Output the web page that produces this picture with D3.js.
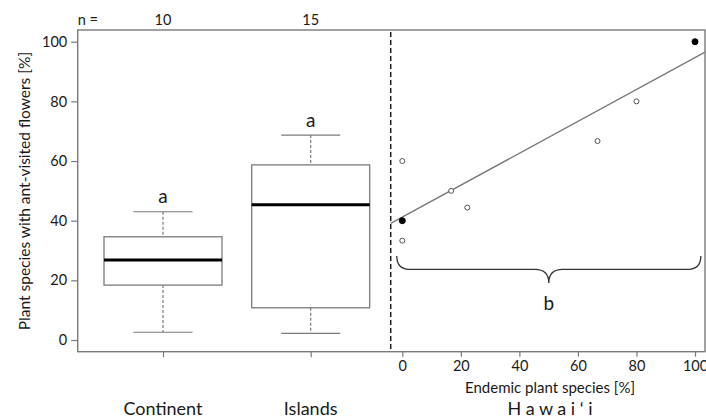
<!DOCTYPE html>
<html>
<head>
<meta charset="utf-8">
<script src="https://cdn.jsdelivr.net/npm/d3@7"></script>
<style>
  html, body { margin: 0; padding: 0; background: #fff; }
  svg { display: block; font-family: Lato, "Open Sans", sans-serif; }
</style>
</head>
<body>
<svg id="chart" width="706" height="419"></svg>
<script>
// Box-plot summary statistics for the two regions
const groups = ["Continent", "Islands"];
const nCounts = [10, 15];
const whiskerLow = [2.6, 2.2];
const q1 = [18.4, 10.8];
const median = [26.8, 45.3];
const q3 = [34.6, 58.7];
const whiskerHigh = [43.0, 68.7];
const groupLetters = ["a", "a"];

// Hawai'i islands: endemic share vs. share of ant-visited flowers
const endemicPct = [0, 0, 0, 16.7, 22.2, 66.7, 80, 100];
const antPct = [40, 60, 33.3, 50, 44.4, 66.7, 80, 100];
const filledPoint = [true, false, false, false, false, false, false, true];
const fitIntercept = 41.2;
const fitSlope = 0.535;
const hawaiiLetter = "b";

// Axis ticks
const yTicks = [0, 20, 40, 60, 80, 100];
const xTicksEndemic = [0, 20, 40, 60, 80, 100];

// Brace span under the Hawai'i points (data units)
const braceX = [-1.9, 102];
const braceY = [28.2, 19.1];

const svg = d3.select("#chart");
const gray = "#7a7a7a";
const ink = "#1a1a1a";

const frame = { left: 77.7, right: 705, top: 30, bottom: 351.7 };
const dashX = 390.7;

const y = d3.scaleLinear().domain([0, 100]).range([340, 41.7]);
const xg = d3.scalePoint().domain(groups).range([163, 310.7]);
const xs = d3.scaleLinear().domain([0, 100]).range([402.3, 695]);
const boxW = 118;

// Frame
svg.append("rect")
  .attr("x", frame.left).attr("y", frame.top)
  .attr("width", frame.right - frame.left).attr("height", frame.bottom - frame.top)
  .attr("fill", "none").attr("stroke", gray).attr("stroke-width", 1.4);

// Y axis
const yAxis = d3.axisLeft(y).tickValues(yTicks).tickSize(6.5).tickPadding(4);
const gy = svg.append("g").attr("transform", `translate(${frame.left},0)`).call(yAxis);
gy.select(".domain").remove();
gy.selectAll(".tick line").attr("stroke", gray).attr("stroke-width", 1.2);
gy.selectAll(".tick text").attr("fill", ink).attr("font-size", 14.5).attr("font-family", "Lato, sans-serif");

svg.append("text")
  .attr("transform", `translate(30,191) rotate(-90)`)
  .attr("text-anchor", "middle")
  .attr("fill", ink).attr("font-size", 15.5)
  .text("Plant species with ant-visited flowers [%]");

// Group ticks on the bottom edge
const gx = svg.append("g").attr("transform", `translate(0,${frame.bottom})`)
  .call(d3.axisBottom(xg).tickSize(5.5).tickFormat(""));
gx.select(".domain").remove();
gx.selectAll(".tick line").attr("stroke", gray).attr("stroke-width", 1.2);

// Sample sizes
svg.append("text").attr("x", frame.left).attr("y", 25)
  .attr("fill", ink).attr("font-size", 14.5).text("n =");
svg.selectAll(".ncount").data(groups).join("text")
  .attr("class", "ncount")
  .attr("x", d => xg(d)).attr("y", 25)
  .attr("text-anchor", "middle").attr("fill", ink).attr("font-size", 14.5)
  .text((d, i) => nCounts[i]);

// Box plots
const boxes = svg.selectAll(".box").data(groups).join("g").attr("class", "box");
boxes.append("line")
  .attr("x1", d => xg(d)).attr("x2", d => xg(d))
  .attr("y1", (d, i) => y(whiskerHigh[i])).attr("y2", (d, i) => y(q3[i]))
  .attr("stroke", gray).attr("stroke-width", 1.2).attr("stroke-dasharray", "3,2");
boxes.append("line")
  .attr("x1", d => xg(d)).attr("x2", d => xg(d))
  .attr("y1", (d, i) => y(q1[i])).attr("y2", (d, i) => y(whiskerLow[i]))
  .attr("stroke", gray).attr("stroke-width", 1.2).attr("stroke-dasharray", "3,2");
[whiskerHigh, whiskerLow].forEach(arr => {
  boxes.append("line")
    .attr("x1", d => xg(d) - boxW / 4).attr("x2", d => xg(d) + boxW / 4)
    .attr("y1", (d, i) => y(arr[i])).attr("y2", (d, i) => y(arr[i]))
    .attr("stroke", gray).attr("stroke-width", 1.2);
});
boxes.append("rect")
  .attr("x", d => xg(d) - boxW / 2).attr("width", boxW)
  .attr("y", (d, i) => y(q3[i])).attr("height", (d, i) => y(q1[i]) - y(q3[i]))
  .attr("fill", "#fff").attr("stroke", gray).attr("stroke-width", 1.3);
boxes.append("line")
  .attr("x1", d => xg(d) - boxW / 2).attr("x2", d => xg(d) + boxW / 2)
  .attr("y1", (d, i) => y(median[i])).attr("y2", (d, i) => y(median[i]))
  .attr("stroke", "#000").attr("stroke-width", 3);
boxes.append("text")
  .attr("x", d => xg(d)).attr("y", (d, i) => y(whiskerHigh[i]) - 8.5)
  .attr("text-anchor", "middle").attr("fill", ink).attr("font-size", 19)
  .text((d, i) => groupLetters[i]);

// Group names
svg.selectAll(".gname").data(groups).join("text")
  .attr("class", "gname")
  .attr("x", d => xg(d)).attr("y", 415)
  .attr("text-anchor", "middle").attr("fill", ink).attr("font-size", 18)
  .text(d => d);

// Divider between panels
svg.append("line")
  .attr("x1", dashX).attr("x2", dashX)
  .attr("y1", frame.top + 2).attr("y2", frame.bottom)
  .attr("stroke", ink).attr("stroke-width", 1.5).attr("stroke-dasharray", "5,3");

// Endemic-share axis
const gs = svg.append("g").attr("transform", `translate(0,${frame.bottom})`)
  .call(d3.axisBottom(xs).tickValues(xTicksEndemic).tickSize(5).tickPadding(4));
gs.select(".domain").remove();
gs.selectAll(".tick line").attr("stroke", gray).attr("stroke-width", 1.2);
gs.selectAll(".tick text").attr("fill", ink).attr("font-size", 14.5).attr("font-family", "Lato, sans-serif");

svg.append("text").attr("x", 550).attr("y", 393)
  .attr("text-anchor", "middle").attr("fill", ink).attr("font-size", 15)
  .text("Endemic plant species [%]");
svg.append("text").attr("x", 550).attr("y", 415)
  .attr("text-anchor", "middle").attr("fill", ink).attr("font-size", 18)
  .text("H a w a i \u2018 i");

// Regression line, clipped between divider and right frame
const fx0 = xs.invert(dashX), fx1 = xs.invert(frame.right);
svg.append("line")
  .attr("x1", xs(fx0)).attr("y1", y(fitIntercept + fitSlope * fx0))
  .attr("x2", xs(fx1)).attr("y2", y(fitIntercept + fitSlope * fx1))
  .attr("stroke", gray).attr("stroke-width", 1.4);

// Island points
svg.selectAll(".pt").data(endemicPct).join("circle")
  .attr("class", "pt")
  .attr("cx", d => xs(d)).attr("cy", (d, i) => y(antPct[i]))
  .attr("r", (d, i) => filledPoint[i] ? 3 : 2.5)
  .attr("fill", (d, i) => filledPoint[i] ? "#000" : "#fff")
  .attr("stroke", (d, i) => filledPoint[i] ? "#000" : "#555")
  .attr("stroke-width", 1);

// Curly brace grouping the Hawai'i points
const bx0 = xs(braceX[0]), bx1 = xs(braceX[1]);
const by0 = y(braceY[0]), by1 = y(braceY[1]);
const bm = (bx0 + bx1) / 2, bmid = (by0 + by1) / 2;
const r = 14;
const bracePath = d3.path();
bracePath.moveTo(bx0, by0);
bracePath.quadraticCurveTo(bx0, bmid, bx0 + r, bmid);
bracePath.lineTo(bm - r, bmid);
bracePath.quadraticCurveTo(bm, bmid, bm, by1);
bracePath.quadraticCurveTo(bm, bmid, bm + r, bmid);
bracePath.lineTo(bx1 - r, bmid);
bracePath.quadraticCurveTo(bx1, bmid, bx1, by0);
svg.append("path").attr("d", bracePath.toString())
  .attr("fill", "none").attr("stroke", "#333").attr("stroke-width", 1.3);

svg.append("text").attr("x", bm).attr("y", 310)
  .attr("text-anchor", "middle").attr("fill", ink).attr("font-size", 19)
  .text(hawaiiLetter);
</script>
</body>
</html>
